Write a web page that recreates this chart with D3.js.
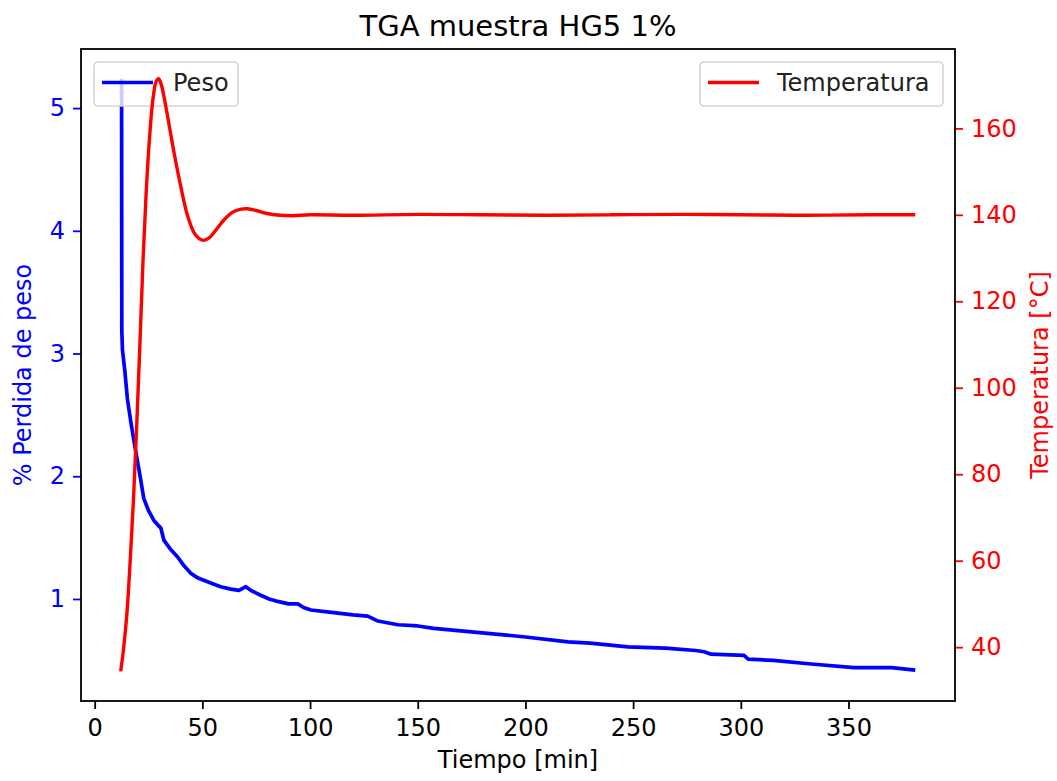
<!DOCTYPE html>
<html>
<head>
<meta charset="utf-8">
<script src="https://cdn.jsdelivr.net/npm/d3@7"></script>
<style>
  body { margin: 0; background: #fff; }
  svg { display: block; font-family: 'DejaVu Sans', sans-serif; }
</style>
</head>
<body>
<div id="chartWrap"></div>
<script>
'use strict'

// Peso (% perdida de peso) vs tiempo [min]
const pesoTime = [12.5, 12.6, 12.9, 14.0, 15.2, 17.0, 19.0, 21.0, 22.8, 25.0, 27.5, 29.5, 30.7, 32.1,
  35.0, 38.6, 41.5, 44.6, 48.0, 53.9, 58.5, 63.2, 67.0, 70.2, 72.5, 77.1, 81.0, 85.0, 90.0, 94.3,
  97.0, 100.4, 110.0, 120.0, 126.8, 131.5, 140.8, 150.0, 157.5, 170.0, 188.6, 200.0, 219.8, 230.0,
  247.6, 265.0, 279.0, 283.0, 286.2, 301.5, 303.4, 315.0, 332.7, 352.6, 370.0, 381.0];
const pesoValue = [5.24, 3.19, 3.03, 2.86, 2.63, 2.42, 2.21, 2.01, 1.82, 1.72, 1.64, 1.60, 1.58, 1.48,
  1.41, 1.34, 1.27, 1.21, 1.17, 1.13, 1.10, 1.08, 1.07, 1.10, 1.07, 1.03, 1.00, 0.98, 0.96, 0.96,
  0.93, 0.91, 0.89, 0.87, 0.86, 0.82, 0.79, 0.78, 0.76, 0.74, 0.71, 0.69, 0.65, 0.64,
  0.61, 0.60, 0.58, 0.57, 0.55, 0.54, 0.51, 0.50, 0.47, 0.44, 0.44, 0.42];

// Temperatura [°C] vs tiempo [min]
const tempTime = [12.1, 13.5, 15.0, 16.5, 18.0, 19.5, 21.0, 22.5, 24.0, 25.5, 27.0, 28.5, 29.7,
  31.0, 32.5, 34.5, 37.0, 40.0, 43.0, 46.0, 48.5, 50.6, 53.0, 56.0, 60.0, 64.0, 68.0, 71.0,
  75.0, 80.0, 86.0, 92.0, 100.0, 120.0, 150.0, 180.0, 210.0, 240.0, 270.0, 300.0, 330.0, 360.0, 381.0];
const tempValue = [34.4, 40.0, 48.0, 60.0, 74.0, 91.0, 110.0, 130.0, 146.0, 158.0, 166.5, 170.8, 171.5,
  170.0, 166.5, 161.0, 154.0, 146.5, 140.0, 136.0, 134.5, 134.1, 134.6, 136.3, 138.8, 140.6, 141.3, 141.4,
  141.0, 140.3, 139.9, 139.8, 140.0, 139.9, 140.1, 140.0, 139.9, 140.0, 140.1, 140.0, 139.9, 140.0, 140.0];

const xTicks = [0, 50, 100, 150, 200, 250, 300, 350];
const pesoTicks = [1, 2, 3, 4, 5];
const tempTicks = [40, 60, 80, 100, 120, 140, 160];

window.addEventListener('DOMContentLoaded', function() {
    let svgWidth = 1057,
        svgHeight = 781,
        margin = { top: 49, right: 102, bottom: 80, left: 81 },
        chartWidth = svgWidth - margin.left - margin.right,
        chartHeight = svgHeight - margin.top - margin.bottom;

    const blue = '#0000ff', red = '#ff0000';
    const fontSize = 24;

    const pesoData = pesoTime.map((t, i) => ({ t, v: pesoValue[i] }));
    const tempData = tempTime.map((t, i) => ({ t, v: tempValue[i] }));

    // matplotlib style 5% margins around the data
    const pad = (lo, hi) => { const m = (hi - lo) * 0.05; return [lo - m, hi + m]; };
    const allT = pesoTime.concat(tempTime);

    const xScale = d3.scaleLinear()
        .domain(pad(d3.min(allT), d3.max(allT)))
        .range([0, chartWidth]);
    const yPeso = d3.scaleLinear()
        .domain(pad(0.41, d3.max(pesoValue)))
        .range([chartHeight, 0]);
    const yTemp = d3.scaleLinear()
        .domain(pad(d3.min(tempValue), d3.max(tempValue)))
        .range([chartHeight, 0]);

    let svg = d3.select('#chartWrap')
        .append('svg')
        .attr('width', svgWidth)
        .attr('height', svgHeight);

    let main = svg.append('g')
        .attr('transform', `translate(${margin.left},${margin.top})`);

    // clip for lines
    svg.append('defs').append('clipPath').attr('id', 'plotClip')
        .append('rect').attr('width', chartWidth).attr('height', chartHeight);

    //#region axes
    const styleAxis = (g, color) => {
        g.select('.domain').remove();
        g.selectAll('.tick line').attr('stroke', color).attr('stroke-width', 1.8);
        g.selectAll('.tick text')
            .attr('fill', color)
            .attr('font-size', fontSize)
            .attr('font-family', "'DejaVu Sans', sans-serif");
    };

    main.append('g')
        .attr('transform', `translate(0,${chartHeight})`)
        .call(d3.axisBottom(xScale).tickValues(xTicks).tickSize(8).tickPadding(10).tickFormat(d3.format('d')))
        .call(g => styleAxis(g, '#000'));

    main.append('g')
        .call(d3.axisLeft(yPeso).tickValues(pesoTicks).tickSize(8).tickPadding(8).tickFormat(d3.format('d')))
        .call(g => styleAxis(g, blue));

    main.append('g')
        .attr('transform', `translate(${chartWidth},0)`)
        .call(d3.axisRight(yTemp).tickValues(tempTicks).tickSize(8).tickPadding(8).tickFormat(d3.format('d')))
        .call(g => styleAxis(g, red));
    //#endregion axes

    //#region lines
    const pesoLine = d3.line().x(d => xScale(d.t)).y(d => yPeso(d.v));
    const tempLine = d3.line().x(d => xScale(d.t)).y(d => yTemp(d.v)).curve(d3.curveCatmullRom.alpha(0.5));

    main.append('path')
        .datum(pesoData)
        .attr('clip-path', 'url(#plotClip)')
        .attr('d', pesoLine)
        .attr('fill', 'none')
        .attr('stroke', blue)
        .attr('stroke-width', 3.7)
        .attr('stroke-linejoin', 'round');
    //#endregion lines

    //#region legends
    const legend = (x, y, w, color, label, textX) => {
        const lg = main.append('g').attr('transform', `translate(${x},${y})`);
        lg.append('rect')
            .attr('width', w).attr('height', 44)
            .attr('rx', 4)
            .attr('fill', 'rgba(255,255,255,0.8)')
            .attr('stroke', '#d6d6d6')
            .attr('stroke-width', 1.6);
        lg.append('line')
            .attr('x1', 8).attr('x2', 59)
            .attr('y1', 20.5).attr('y2', 20.5)
            .attr('stroke', color).attr('stroke-width', 3.7);
        lg.append('text')
            .attr('x', textX).attr('y', 29)
            .attr('font-size', fontSize)
            .attr('fill', '#222')
            .text(label);
    };

    // Peso legend belongs to the first axes (under the red line)
    legend(94 - margin.left, 62 - margin.top, 144, blue, 'Peso', 79);

    main.append('path')
        .datum(tempData)
        .attr('clip-path', 'url(#plotClip)')
        .attr('d', tempLine)
        .attr('fill', 'none')
        .attr('stroke', red)
        .attr('stroke-width', 3.4)
        .attr('stroke-linejoin', 'round');

    legend(700 - margin.left, 62 - margin.top, 243, red, 'Temperatura', 77);
    //#endregion legends

    // frame
    main.append('rect')
        .attr('width', chartWidth).attr('height', chartHeight)
        .attr('fill', 'none')
        .attr('stroke', '#000')
        .attr('stroke-width', 1.8);

    //#region titles
    svg.append('text')
        .attr('x', margin.left + chartWidth / 2)
        .attr('y', 36)
        .attr('text-anchor', 'middle')
        .attr('font-size', 29)
        .attr('fill', '#000')
        .text('TGA muestra HG5 1%');

    svg.append('text')
        .attr('x', margin.left + chartWidth / 2)
        .attr('y', 768)
        .attr('text-anchor', 'middle')
        .attr('font-size', fontSize)
        .attr('fill', '#000')
        .text('Tiempo [min]');

    svg.append('text')
        .attr('transform', `translate(31,${margin.top + chartHeight / 2}) rotate(-90)`)
        .attr('text-anchor', 'middle')
        .attr('font-size', fontSize)
        .attr('fill', blue)
        .text('% Perdida de peso');

    svg.append('text')
        .attr('transform', `translate(1048,${margin.top + chartHeight / 2}) rotate(-90)`)
        .attr('text-anchor', 'middle')
        .attr('font-size', fontSize)
        .attr('fill', red)
        .text('Temperatura [°C]');
    //#endregion titles
});
</script>
</body>
</html>
